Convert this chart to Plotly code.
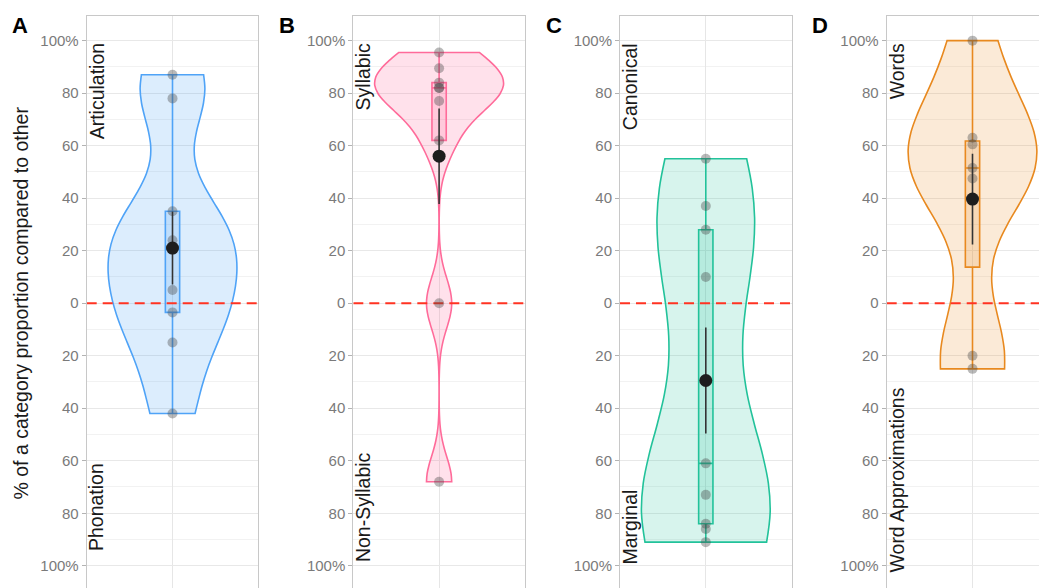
import numpy as np
import plotly.graph_objects as go

# ---------------- data ----------------
panel_letters = ["A", "B", "C", "D"]
top_labels = ["Articulation", "Syllabic", "Canonical", "Words"]
bottom_labels = ["Phonation", "Non-Syllabic", "Marginal", "Word Approximations"]
bottom_label_pos = [-94.5, -98.5, -99.7, -102.5]

values_a = [87, 78, 35, 24, 20.5, 5, -3.5, -15, -42]
values_b = [95.5, 89.5, 84, 82, 82, 77, 62, 0, -68]
values_c = [55, 37, 28, 10, -61, -73, -84, -86, -91]
values_d = [100, 63, 60.5, 51.5, 47.5, -20, -25]
all_values = [values_a, values_b, values_c, values_d]

line_colors = ["#4fa3f7", "#ff6b9a", "#22c29a", "#e8891f"]
fill_colors = ["rgba(79,163,247,0.20)", "rgba(255,107,154,0.20)",
               "rgba(34,194,154,0.18)", "rgba(232,137,31,0.18)"]

y_tickvals = [100, 80, 60, 40, 20, 0, -20, -40, -60, -80, -100]
y_ticktext = ["100%", "80", "60", "40", "20", "0", "20", "40", "60", "80", "100%"]
y_minor = [90, 70, 50, 30, 10, -10, -30, -50, -70, -90]
y_title = "% of a category proportion compared to other"

# ---------------- layout geometry (figure pixels) ----------------
W, H = 1047, 588
panel_left_px = [78.7, 345.3, 612.0, 878.7]
panel_w_px = 171.6
top_px = 7.7
bottom_px = 582.7
Y_RANGE = [-109.5, 109.5]
CAT = 1.0


def bw_nrd0(v):
    v = np.asarray(v, dtype=float)
    sd = np.std(v, ddof=1)
    q1, q3 = np.percentile(v, [25, 75])
    lo = min(sd, (q3 - q1) / 1.34)
    return 0.9 * lo * len(v) ** (-0.2)


def box_stats(v):
    v = np.asarray(v, dtype=float)
    q1, med, q3 = np.percentile(v, [25, 50, 75])
    iqr = q3 - q1
    lo = v[v >= q1 - 1.5 * iqr].min()
    hi = v[v <= q3 + 1.5 * iqr].max()
    return q1, med, q3, lo, hi


fig = go.Figure()
FONT = "Liberation Sans, Arial, sans-serif"
annotations = []

for i, vals in enumerate(all_values):
    n = i + 1
    xa = "x" if n == 1 else f"x{n}"
    ya = "y" if n == 1 else f"y{n}"
    d0 = panel_left_px[i] / W
    d1 = min((panel_left_px[i] + panel_w_px) / W, 1.0)
    xr = [0.4, 0.4 + 1.2 * (d1 - d0) * W / panel_w_px]

    # violin
    fig.add_trace(go.Violin(
        x0=CAT, y=vals, xaxis=xa, yaxis=ya,
        width=0.9, scalemode="width", spanmode="hard",
        bandwidth=bw_nrd0(vals), points=False,
        box_visible=False, meanline_visible=False,
        line=dict(color=line_colors[i], width=1.6),
        fillcolor=fill_colors[i], hoverinfo="skip", name=""))
    # box (R type-7 quartiles)
    q1, med, q3, lo, hi = box_stats(vals)
    fig.add_trace(go.Box(
        x=[CAT], q1=[q1], median=[med], q3=[q3],
        lowerfence=[lo], upperfence=[hi], xaxis=xa, yaxis=ya, width=0.1,
        boxpoints=False, whiskerwidth=0,
        line=dict(color=line_colors[i], width=1.6),
        fillcolor=fill_colors[i], hoverinfo="skip", name=""))
    # zero reference line
    fig.add_trace(go.Scatter(
        x=xr, y=[0, 0], xaxis=xa, yaxis=ya, mode="lines",
        line=dict(color="#ff3322", width=2, dash="10px,6px"),
        hoverinfo="skip"))
    # raw points
    fig.add_trace(go.Scatter(
        x=[CAT] * len(vals), y=vals, xaxis=xa, yaxis=ya, mode="markers",
        marker=dict(size=10, color="rgba(70,70,70,0.38)", line=dict(width=0)),
        hoverinfo="skip"))
    # mean +/- SE
    arr = np.asarray(vals, dtype=float)
    m = arr.mean()
    se = arr.std(ddof=1) / np.sqrt(len(arr))
    fig.add_trace(go.Scatter(
        x=[CAT], y=[m], xaxis=xa, yaxis=ya, mode="markers",
        marker=dict(size=13, color="#1e1e1e"),
        error_y=dict(type="data", array=[se], visible=True,
                     thickness=1.6, width=0, color="#333333"),
        hoverinfo="skip"))

    xkey = "xaxis" if n == 1 else f"xaxis{n}"
    ykey = "yaxis" if n == 1 else f"yaxis{n}"
    fig.update_layout(**{
        xkey: dict(domain=[d0, d1], anchor=ya, range=xr, automargin=False,
                   tickmode="array", tickvals=[CAT], showticklabels=False,
                   ticks="", showgrid=True, gridcolor="#e6e6e6", gridwidth=1,
                   zeroline=False, side="top",
                   showline=True, linecolor="#c8c8c8", linewidth=1, mirror=False),
        ykey: dict(domain=[1 - bottom_px / H, 1 - top_px / H], anchor=xa,
                   range=Y_RANGE, automargin=False,
                   tickmode="array", tickvals=y_tickvals, ticktext=y_ticktext,
                   ticks="outside", ticklen=4, tickcolor="#b3b3b3", tickwidth=1,
                   tickfont=dict(family=FONT, size=15, color="#7a7a7a"),
                   showgrid=True, gridcolor="#e8e8e8", gridwidth=1,
                   minor=dict(tickmode="array", tickvals=y_minor, showgrid=True,
                              gridcolor="#f2f2f2", gridwidth=1, ticks=""),
                   zeroline=False, showline=True, linecolor="#c8c8c8",
                   linewidth=1, mirror=True),
    })

    xdom = f"{xa} domain"
    annotations.append(dict(
        text=top_labels[i], textangle=-90, xref=xdom, x=0, xanchor="left",
        xshift=-3, yref=ya, y=100, yanchor="top", yshift=-1, showarrow=False,
        font=dict(family=FONT, size=19.5, color="#1a1a1a")))
    annotations.append(dict(
        text=bottom_labels[i], textangle=-90, xref=xdom, x=0, xanchor="left",
        xshift=-3, yref=ya, y=bottom_label_pos[i], yanchor="bottom", yshift=-2,
        showarrow=False, font=dict(family=FONT, size=19.5, color="#1a1a1a")))
    # panel letter
    annotations.append(dict(
        text=f"<b>{panel_letters[i]}</b>", xref="paper", yref="paper",
        x=(12.4 + 266.67 * i) / W, y=1 - 17.5 / H, xanchor="center",
        yanchor="middle", showarrow=False,
        font=dict(family=FONT, size=22, color="#000000")))

annotations.append(dict(
    text=y_title, textangle=-90, xref="paper", yref="paper",
    x=12 / W, y=1 - 295.5 / H, xanchor="center", yanchor="middle",
    showarrow=False, font=dict(family=FONT, size=19.5, color="#1a1a1a")))

fig.update_layout(
    width=W, height=H, margin=dict(l=0, r=0, t=0, b=0, autoexpand=False),
    paper_bgcolor="white", plot_bgcolor="white",
    showlegend=False, violinmode="overlay", boxmode="overlay",
    annotations=annotations, font=dict(family=FONT))

fig.write_html("out.html")
